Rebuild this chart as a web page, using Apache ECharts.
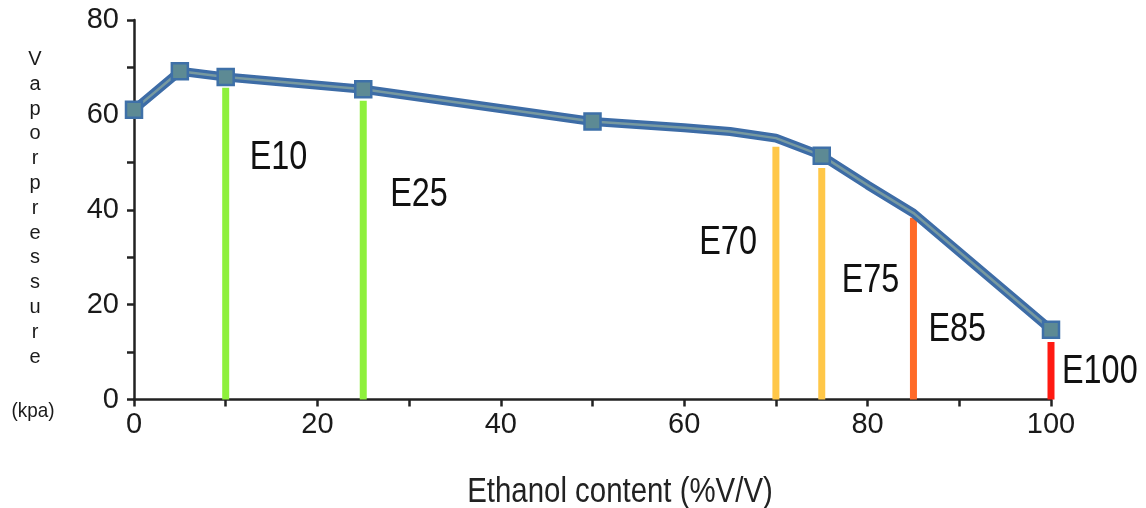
<!DOCTYPE html>
<html>
<head>
<meta charset="utf-8">
<script src="https://cdn.jsdelivr.net/npm/echarts@6/dist/echarts.min.js"></script>
<style>
html,body{margin:0;padding:0;background:#fff;}
#c{width:1146px;height:508px;}
</style>
</head>
<body>
<div id="c"></div>
<script>
// ---- data ----
const curveX = [0, 5, 10, 25, 50, 60, 65, 70, 75, 80, 85, 100];
const curveY = [61.1, 69.2, 68.0, 65.4, 58.6, 57.3, 56.5, 55.1, 51.4, 45.2, 39.3, 14.7];
const markerX = [0, 5, 10, 25, 50, 75, 100];
const blendNames = ['E10', 'E25', 'E70', 'E75', 'E85', 'E100'];
const blendX = [10, 25, 70, 75, 85, 100];
const blendTop = [65.7, 63.0, 53.3, 48.8, 38.3, 12.1];
const blendLabelY = [50.9, 43.2, 33.0, 25.0, 14.7, 5.8];
const yTicks = [0, 20, 40, 60, 80];
const xTicks = [0, 20, 40, 60, 80, 100];
const xTitle = 'Ethanol content (%V/V)';
const yTitle = 'Vapor pressure';
const yUnit = '(kpa)';

// ---- styles ----
const blendColors = ['#8ef03c', '#8ef03c', '#ffc748', '#ffc748', '#ff6a28', '#ff1a12'];
const labelSide = ['right', 'right', 'left', 'right', 'right', 'right'];
const labelGap = [24, 27, 19, 20, 15, 11];
const FONT = '"Liberation Sans", Arial, Helvetica, sans-serif';

const chart = echarts.init(document.getElementById('c'), null, {renderer: 'canvas'});

const series = [];
blendX.forEach((x, i) => {
  series.push({
    type: 'line', symbol: 'none', silent: true, z: 1,
    data: [[x, 0], [x, blendTop[i]]],
    lineStyle: {color: blendColors[i], width: 7, cap: 'butt'}
  });
});
const curveData = curveX.map((x, i) => [x, curveY[i]]);
series.push({
  type: 'line', symbol: 'none', z: 3, silent: true,
  data: curveData,
  lineStyle: {color: '#3d6ca6', width: 9, join: 'round'}
});
series.push({
  type: 'line', symbol: 'none', z: 4, silent: true,
  data: curveData,
  lineStyle: {color: '#7799a0', width: 2.5, join: 'round'}
});
series.push({
  type: 'scatter', z: 5, silent: true,
  symbol: 'rect', symbolSize: 16,
  data: markerX.map(x => [x, curveY[curveX.indexOf(x)]]),
  itemStyle: {color: '#5d8a94', borderColor: '#3e70a8', borderWidth: 2.5, opacity: 1}
});

chart.setOption({
  animation: false,
  backgroundColor: '#fff',
  grid: {left: 134, right: 95, top: 20, bottom: 108.5, containLabel: false},
  xAxis: {
    type: 'value', min: 0, max: 100, interval: 10,
    axisLine: {lineStyle: {color: '#222', width: 2.5}},
    axisTick: {show: true, length: 7, lineStyle: {color: '#222', width: 2.5}},
    splitLine: {show: false},
    axisLabel: {
      color: '#1a1a1a', fontFamily: FONT, fontSize: 29, margin: 11,
      formatter: v => xTicks.includes(v) ? String(v) : ''
    }
  },
  yAxis: {
    type: 'value', min: 0, max: 80, interval: 10,
    axisLine: {show: true, lineStyle: {color: '#222', width: 2.5}},
    axisTick: {show: true, length: 7, lineStyle: {color: '#222', width: 2.5}},
    splitLine: {show: false},
    axisLabel: {
      color: '#1a1a1a', fontFamily: FONT, fontSize: 29, margin: 15,
      formatter: v => yTicks.includes(v) ? String(v) : ''
    }
  },
  series: series
});

// annotations placed through the chart's own coordinate conversion
const graphics = blendNames.map((name, i) => {
  const p = chart.convertToPixel({gridIndex: 0}, [blendX[i], blendLabelY[i]]);
  const right = labelSide[i] === 'right';
  return {
    type: 'text', silent: true, z: 10,
    x: right ? p[0] + labelGap[i] : p[0] - labelGap[i], y: p[1],
    scaleX: 0.79, scaleY: 1,
    style: {text: name, fontFamily: FONT, fontSize: 41, fill: '#111',
      align: right ? 'left' : 'right', verticalAlign: 'middle'}
  };
});
graphics.push({
  type: 'text', x: 620, y: 492, scaleX: 0.84, silent: true,
  style: {text: xTitle, fontFamily: FONT, fontSize: 35, fill: '#222',
    align: 'center', verticalAlign: 'middle'}
});
graphics.push({
  type: 'text', x: 35, y: 47, silent: true,
  style: {text: yTitle.replace(/ /g, '').split('').join('\n'), fontFamily: FONT,
    fontSize: 20, lineHeight: 24.8, fill: '#1a1a1a', align: 'center', verticalAlign: 'top'}
});
graphics.push({
  type: 'text', x: 33, y: 411, silent: true, scaleX: 0.9,
  style: {text: yUnit, fontFamily: FONT, fontSize: 21, fill: '#1a1a1a',
    align: 'center', verticalAlign: 'middle'}
});
chart.setOption({graphic: graphics});
</script>
</body>
</html>
